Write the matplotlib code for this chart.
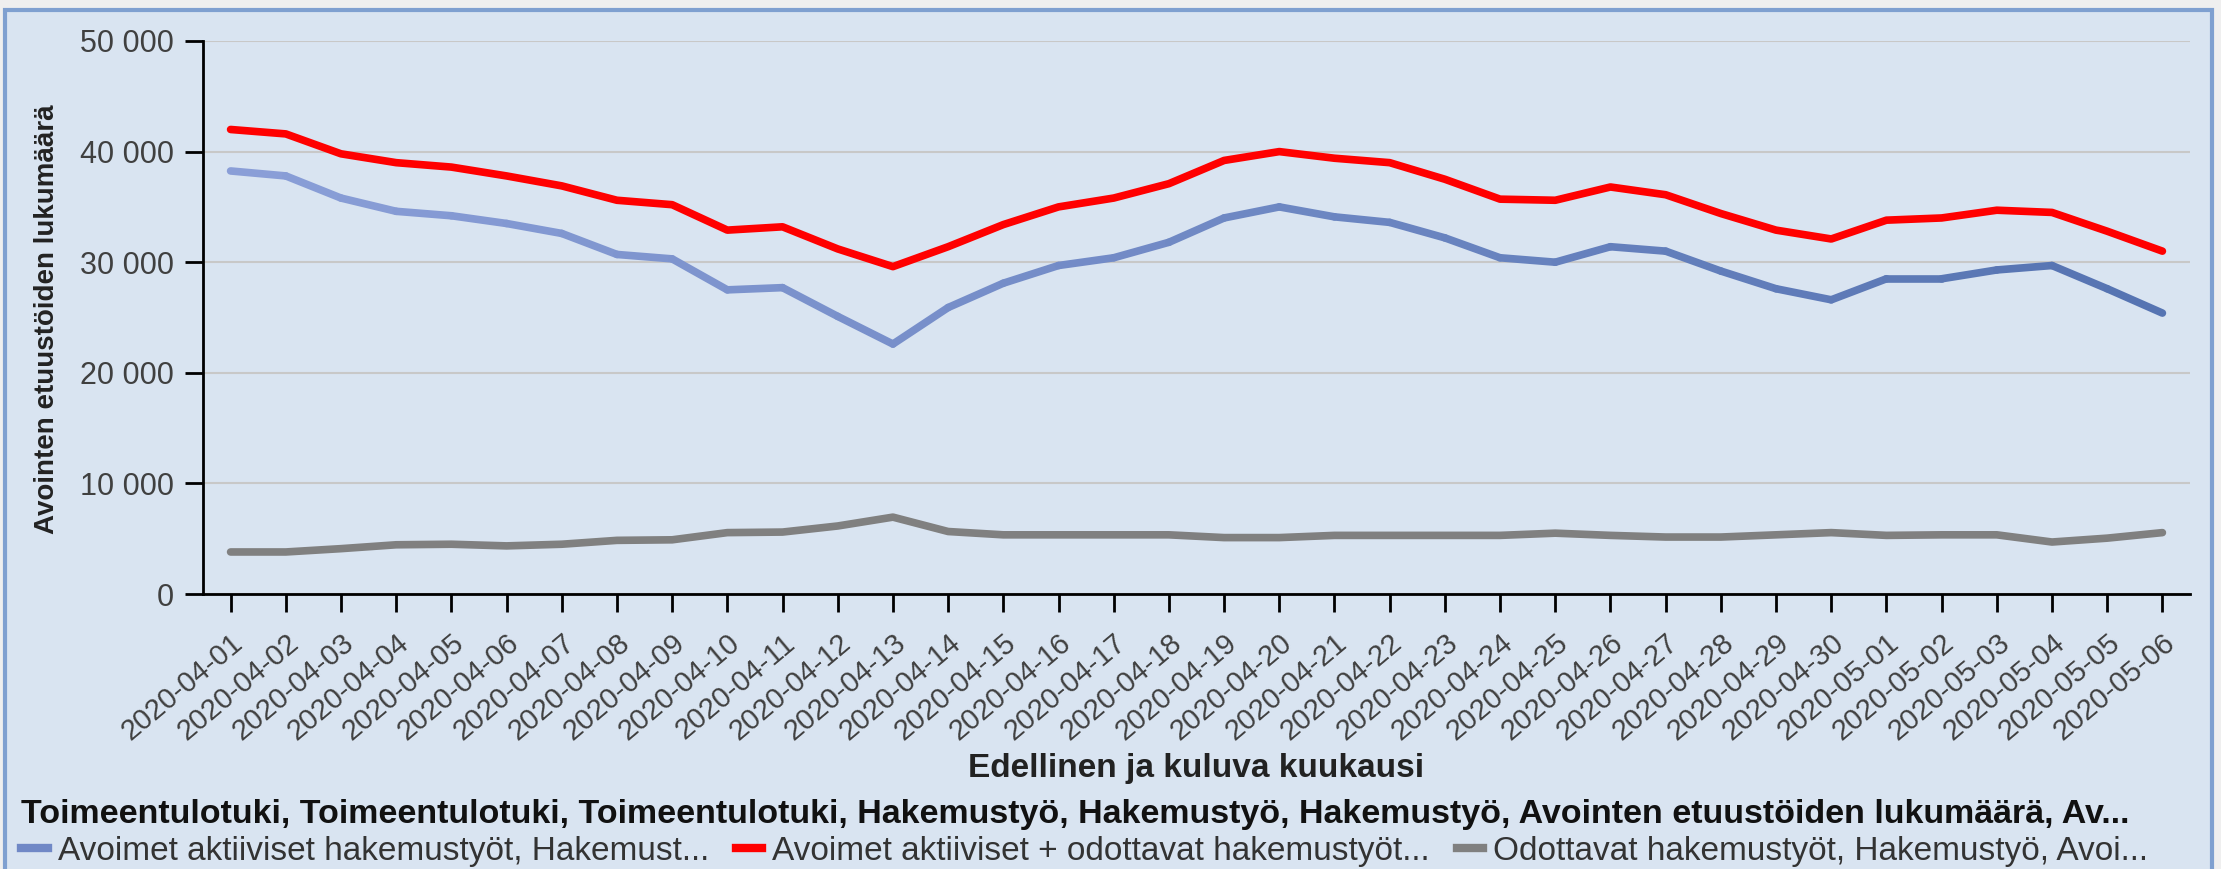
import numpy as np
import matplotlib
matplotlib.use('Agg')
import matplotlib.pyplot as plt
from matplotlib.collections import LineCollection
from matplotlib.lines import Line2D
from matplotlib.patches import Rectangle
from matplotlib.ticker import FuncFormatter


dates = [
    '2020-04-01', '2020-04-02', '2020-04-03', '2020-04-04', '2020-04-05', '2020-04-06',
    '2020-04-07', '2020-04-08', '2020-04-09', '2020-04-10', '2020-04-11', '2020-04-12',
    '2020-04-13', '2020-04-14', '2020-04-15', '2020-04-16', '2020-04-17', '2020-04-18',
    '2020-04-19', '2020-04-20', '2020-04-21', '2020-04-22', '2020-04-23', '2020-04-24',
    '2020-04-25', '2020-04-26', '2020-04-27', '2020-04-28', '2020-04-29', '2020-04-30',
    '2020-05-01', '2020-05-02', '2020-05-03', '2020-05-04', '2020-05-05', '2020-05-06',
]

aktiiviset = [
    38250, 37800, 35800, 34600, 34200, 33500, 32600, 30700, 30300, 27500, 27700, 25100,
    22600, 25900, 28100, 29700, 30400, 31800, 34000, 35000, 34100, 33600, 32200, 30400,
    30000, 31400, 31000, 29200, 27600, 26600, 28500, 28500, 29300, 29700, 27600, 25400,
]
yhteensa = [
    42000, 41600, 39800, 39000, 38600, 37800, 36900, 35600, 35200, 32900, 33200, 31200,
    29600, 31400, 33400, 35000, 35800, 37100, 39200, 40000, 39400, 39000, 37500, 35700,
    35600, 36800, 36100, 34400, 32900, 32100, 33800, 34000, 34700, 34500, 32800, 31000,
]
odottavat = [
    3800, 3800, 4100, 4450, 4500, 4350, 4500, 4850, 4900, 5550, 5600, 6150,
    6950, 5650, 5350, 5350, 5350, 5350, 5100, 5100, 5300, 5300, 5300, 5300,
    5500, 5300, 5150, 5150, 5350, 5550, 5300, 5350, 5350, 4700, 5050, 5550,
]

labels = [
    'Avoimet aktiiviset hakemustyöt, Hakemust...',
    'Avoimet aktiiviset + odottavat hakemustyöt...',
    'Odottavat hakemustyöt, Hakemustyö, Avoi...',
]
legend_title = ('Toimeentulotuki, Toimeentulotuki, Toimeentulotuki, Hakemustyö, Hakemustyö, '
                'Hakemustyö, Avointen etuustöiden lukumäärä, Av...')

BG = '#d9e4f1'
plt.rcParams['font.family'] = ['Liberation Sans', 'DejaVu Sans']

W, H = 2221, 869
fig = plt.figure(figsize=(W / 100, H / 100), dpi=100)
fig.patch.set_facecolor('#efefef')
fig.patches.append(Rectangle((5 / W, -0.05), 2207 / W, (H - 10) / H + 0.05,
                             transform=fig.transFigure, facecolor=BG,
                             edgecolor='#7fa0d0', linewidth=3, zorder=-5))

ax = fig.add_axes([203 / W, (H - 594) / H, (2190 - 203) / W, 553 / H])
ax.set_facecolor('none')

x = np.arange(len(dates))

# blue line goes lighter -> darker from left to right
pts = np.column_stack([x, aktiiviset]).reshape(-1, 1, 2)
segs = np.concatenate([pts[:-1], pts[1:]], axis=1)
c0 = np.array(matplotlib.colors.to_rgb('#8a9ed7'))
c1 = np.array(matplotlib.colors.to_rgb('#5674b2'))
t = np.linspace(0, 1, len(segs))[:, None]
lc = LineCollection(segs, colors=c0 + (c1 - c0) * t, linewidths=5.5, capstyle='round',
                    joinstyle='round', zorder=3)
ax.add_collection(lc)
ax.plot(x, yhteensa, color='#ff0000', lw=5.5, solid_capstyle='round', zorder=3)
ax.plot(x, odottavat, color='#808080', lw=5.5, solid_capstyle='round', zorder=3)

ax.set_xlim(-0.5, len(dates) - 0.5)
ax.set_ylim(0, 50000)
ax.set_yticks(np.arange(0, 50001, 10000))
ax.yaxis.set_major_formatter(FuncFormatter(lambda v, p: f'{v:,.0f}'.replace(',', ' ')))
ax.set_xticks(x)
ax.set_xticklabels(dates, rotation=40, ha='right', rotation_mode='anchor')
ax.grid(axis='y', color='#c8c8c8', lw=1.5, zorder=1)
ax.set_axisbelow(True)
for s in ['top', 'right']:
    ax.spines[s].set_visible(False)
for s in ['left', 'bottom']:
    ax.spines[s].set_linewidth(2)
ax.tick_params(axis='y', length=13, width=2, labelsize=22, labelcolor='#404040', pad=8)
ax.tick_params(axis='x', length=13, width=2, labelsize=21, labelcolor='#404040', pad=12)

fig.text(1196 / W, 1 - 769 / H, 'Edellinen ja kuluva kuukausi', ha='center', va='center',
         fontsize=24, fontweight='bold', color='#222222')
fig.text(47 / W, 1 - 319 / H, 'Avointen etuustöiden lukumäärä', ha='center', va='center',
         rotation=90, fontsize=20, fontweight='bold', color='#222222')

handles = [Line2D([], [], color=c, lw=6) for c in ['#7088c6', '#ff0000', '#808080']]
leg = fig.legend(handles, labels, title=legend_title, loc='lower left',
                 bbox_to_anchor=(-9 / W, -0.032), ncol=3, frameon=False,
                 handlelength=0.8, handletextpad=0.3, columnspacing=0.8,
                 labelspacing=0.17, prop={'size': 24},
                 title_fontproperties={'size': 24.5, 'weight': 'bold'})
leg._legend_box.align = 'left'
for txt in leg.get_texts():
    txt.set_color('#333333')
leg.get_title().set_color('#111111')

fig.savefig('out.png', dpi=100, facecolor=fig.get_facecolor())
